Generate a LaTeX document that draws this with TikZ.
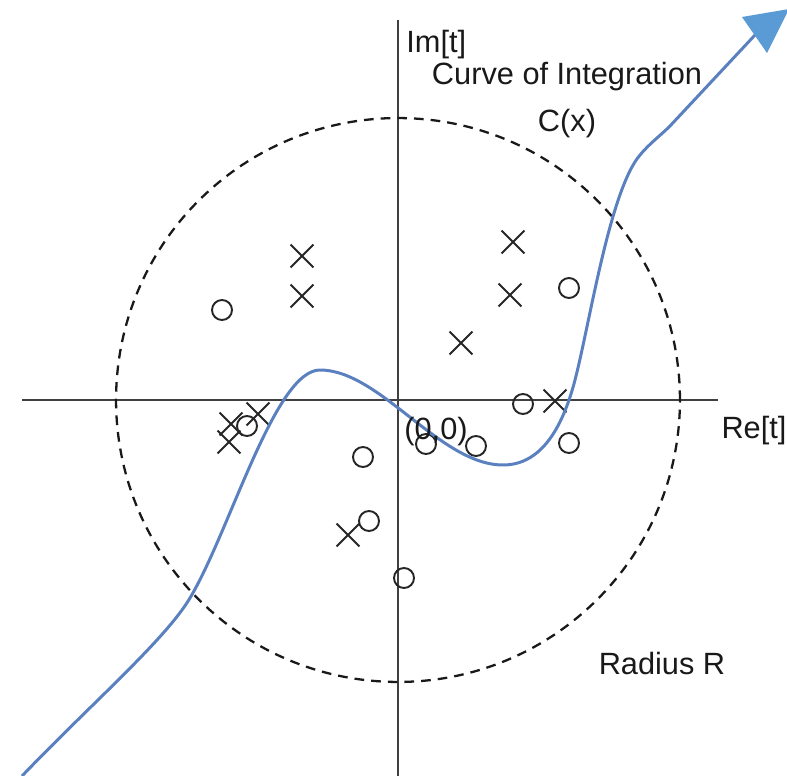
\documentclass[tikz,border=0pt]{standalone}
\usepackage{fontspec}
\setmainfont{Liberation Sans}
\usetikzlibrary{shapes.misc}
\definecolor{curveblue}{HTML}{5A80BF}
\definecolor{tipblue}{HTML}{5B9BD5}
\begin{document}
\begin{tikzpicture}[x=0.02cm,y=-0.02cm,
  axis/.style={draw=black!75,line width=0.8pt},
  bigcircle/.style={draw=black!90,line width=1.3pt,dash pattern=on 5.5pt off 4pt},
  xmark/.style={cross out,draw=black!85,line width=1.1pt,inner sep=0pt,minimum size=0.42cm},
  omark/.style={circle,draw=black!85,line width=1.1pt,inner sep=0pt,minimum size=0.40cm},
  lbl/.style={font=\fontsize{17.5}{20}\selectfont,text=black!90,inner sep=0pt},
  contour/.style={draw=curveblue,line width=1.7pt}]
\useasboundingbox (0,0) rectangle (787,776);
% axes
\coordinate (xl) at (22,400); \coordinate (xr) at (718,400);
\coordinate (yt) at (398,20); \coordinate (yb) at (398,776);
\draw[axis] (xl) -- (xr);
\draw[axis] (yt) -- (yb);
% circle of radius R
\coordinate (o) at (398,400);
\draw[bigcircle] (o) circle[radius=5.64cm];
% poles (x) and zeros (o)
\node[xmark] (p1) at (302,256) {};
\node[xmark] (p2) at (302,296) {};
\node[xmark] (p3) at (513,242) {};
\node[xmark] (p4) at (510,295) {};
\node[xmark] (p5) at (461,343) {};
\node[xmark] (p6) at (555,401) {};
\node[xmark] (p7) at (231,424) {};
\node[xmark] (p8) at (258,414) {};
\node[xmark] (p9) at (229,442) {};
\node[xmark] (p10) at (348,535) {};
\node[omark] (z1) at (222,310) {};
\node[omark] (z2) at (569,288) {};
\node[omark] (z3) at (523,404) {};
\node[omark] (z4) at (426,444) {};
\node[omark] (z5) at (476,446) {};
\node[omark] (z6) at (569,443) {};
\node[omark] (z7) at (363,457) {};
\node[omark] (z8) at (369,521) {};
\node[omark] (z9) at (404,578) {};
\node[omark] (z10) at (247,426) {};
% curve of integration
\coordinate (cstart) at (22,776);
\coordinate (cend) at (755,35);
\draw[contour] (cstart) .. controls (90,705) and (165,640) .. (190,598)
  .. controls (230,531) and (275,370) .. (320,370)
  .. controls (380,370) and (440,465) .. (503,465)
  .. controls (540,465) and (562,430) .. (575,380)
  .. controls (590,322) and (610,190) .. (640,155)
  .. controls (650,143) and (660,136) .. (670,126)
  -- (cend);
\fill[tipblue] (742,17) -- (789,9) -- (767,53) -- cycle;
% labels
\node[lbl,anchor=west] (im) at (406,45) {Im[t]};
\node[lbl] (coi) at (567,77) {Curve of Integration};
\node[lbl] (cx) at (567,124) {C(x)};
\node[lbl] (re) at (754,431) {Re[t]};
\node[lbl] (orig) at (436,432) {(0,0)};
\node[lbl] (rad) at (662,664) {Radius R};
\end{tikzpicture}
\end{document}
